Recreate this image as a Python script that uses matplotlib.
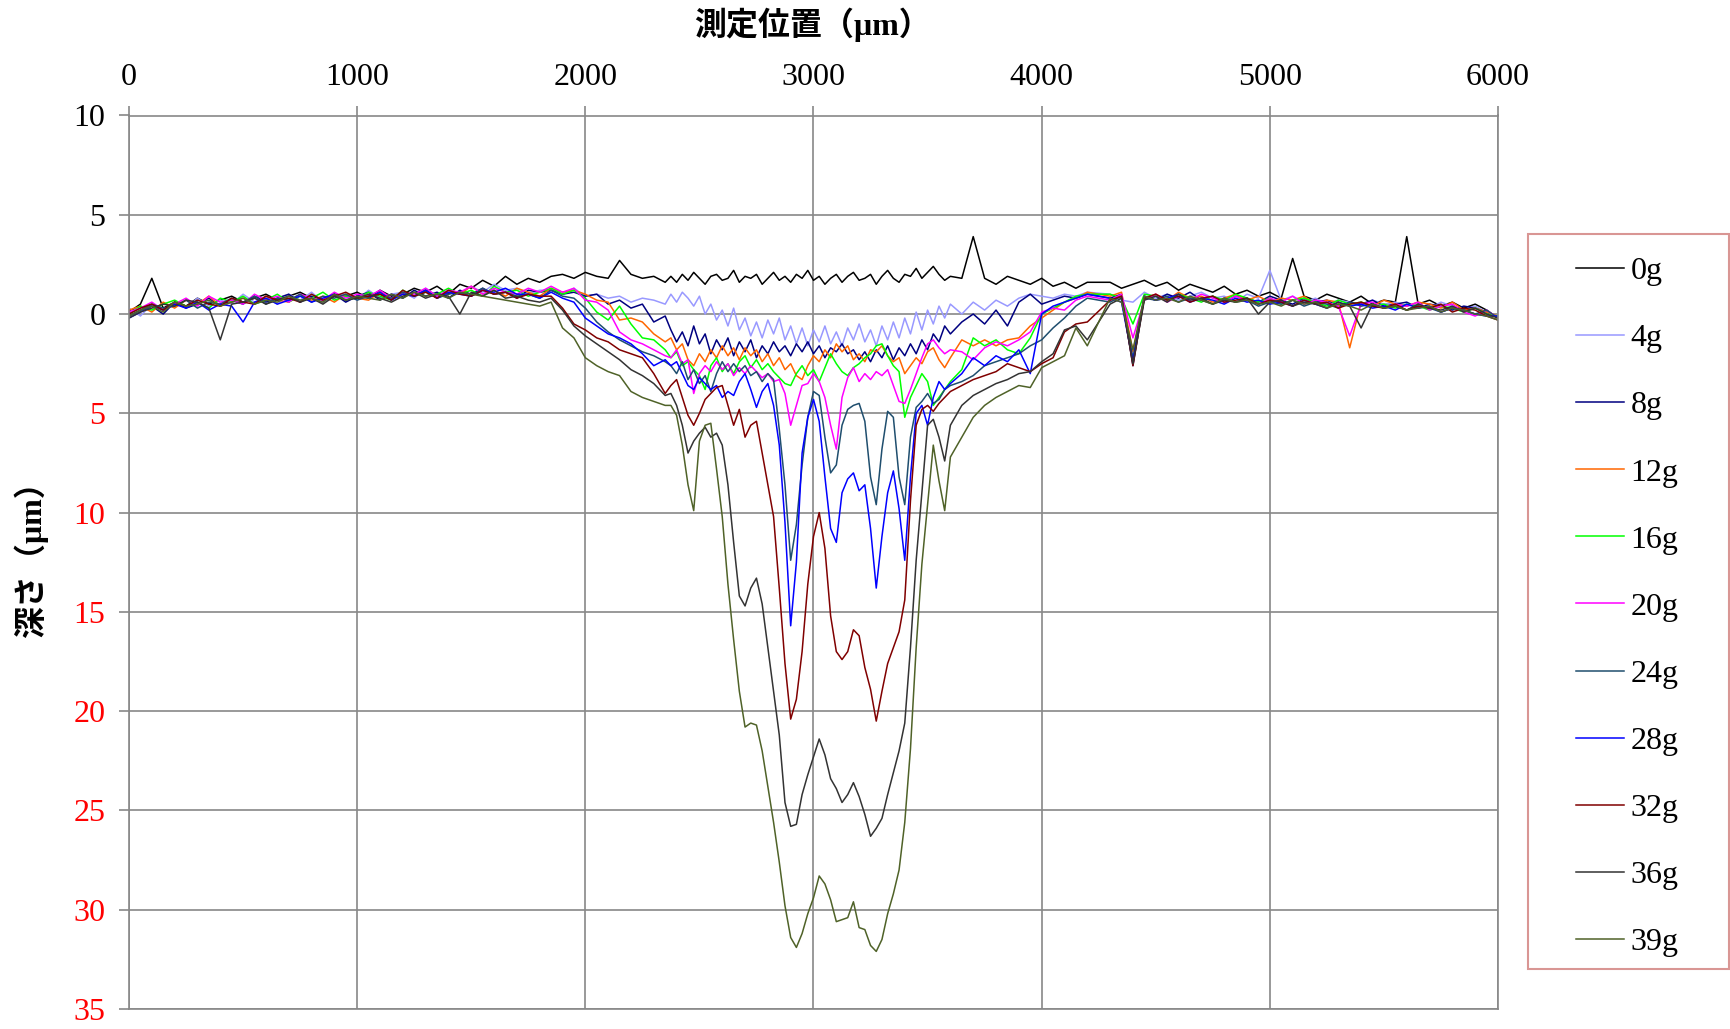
import numpy as np
import matplotlib.pyplot as plt
from matplotlib.patches import Rectangle

# measurement positions (um)
x_um = (list(range(0, 2351, 50)) + list(range(2375, 3601, 25)) +
        list(range(3650, 4201, 50)) + list(range(4300, 6001, 50)))

# depth profiles (um, positive = below surface)
depth_0g = [-0.1, -0.5, -1.8, -0.3, -0.6, -0.4, -0.8, -0.5, -0.7, -0.9, -0.6, -0.8, -1.0, -0.7, -0.9, -1.1, -0.8, -0.6, -1.0,
            -0.9, -1.1, -0.8, -1.2, -0.9, -1.0, -1.3, -1.1, -1.4, -1.0, -1.5, -1.3, -1.7, -1.4, -1.9, -1.5, -1.8, -1.6,
            -1.9, -2.0, -1.8, -2.1, -1.9, -1.8, -2.7, -2.0, -1.8, -1.9, -1.6,
            -1.9, -1.6, -2.0, -1.7, -2.1, -1.8, -1.5, -1.9, -2.0, -1.7, -1.8, -2.2, -1.6, -1.9, -1.8, -2.0, -1.5, -1.8, -2.1, -1.7,
            -1.9, -1.6, -2.0, -1.8, -2.2, -1.7, -1.9, -1.5, -1.8, -2.0, -1.6, -1.9, -2.1, -1.7, -1.8, -2.0, -1.5, -1.9, -2.2, -1.8,
            -1.6, -2.0, -1.9, -2.3, -1.8, -2.1, -2.4, -2.0, -1.7, -1.9,
            -1.8, -3.9, -1.8, -1.5, -1.9, -1.7, -1.5, -1.8, -1.4, -1.6, -1.3, -1.6,
            -1.6, -1.3, -1.5, -1.7, -1.4, -1.6, -1.2, -1.5, -1.3, -1.1, -1.4, -1.0, -1.2, -0.9, -1.1, -0.8, -2.8, -0.9,
            -0.7, -1.0, -0.8, -0.6, -0.9, -0.5, -0.7, -0.6, -3.9, -0.5, -0.7, -0.4, -0.6, -0.3, -0.5, -0.2, 0.2]
depth_4g = [-0.3, 0.1, -0.5, -0.2, -0.6, -0.3, -0.8, -0.4, -0.7, -0.5, -1.0, -0.6, -0.9, -0.5, -1.0, -0.7, -1.1, -0.6, -0.9,
            -1.0, -0.7, -1.2, -0.8, -1.0, -1.1, -0.8, -1.3, -0.9, -1.2, -1.0, -1.4, -1.1, -1.5, -1.2, -1.3, -1.0, -1.2,
            -1.2, -1.0, -1.3, -0.9, -1.0, -0.8, -0.9, -0.6, -0.8, -0.7, -0.5,
            -1.0, -0.6, -1.1, -0.8, -0.4, -0.9, 0.0, -0.5, 0.3, -0.2, 0.6, -0.3, 0.8, 0.2, 1.1, 0.4, 1.2, 0.3, 1.0, 0.2,
            1.3, 0.6, 1.5, 0.7, 1.6, 0.8, 1.4, 0.6, 1.5, 0.9, 1.6, 0.7, 1.3, 0.5, 1.4, 0.8, 1.6, 0.6, 1.3, 0.4,
            1.2, 0.2, 1.0, -0.1, 0.8, -0.2, 0.5, -0.4, 0.2, -0.5,
            0.0, -0.6, -0.2, -0.7, -0.4, -0.8, -1.0, -0.9, -0.8, -1.0, -0.9, -1.1,
            -1.0, -0.7, -0.6, -1.1, -0.8, -1.0, -0.7, -0.9, -1.1, -0.8, -0.9, -0.6, -1.0, -0.8, -2.2, -0.7, -0.9, -0.6,
            -0.8, -0.5, -0.7, -0.6, -0.4, -0.7, -0.5, -0.6, -0.4, -0.5, -0.3, -0.6, -0.4, -0.2, -0.4, -0.1, 0.1]
depth_8g = [0.1, -0.2, -0.4, 0.0, -0.6, -0.3, -0.5, -0.8, -0.4, -0.7, -0.5, -0.9, -0.6, -0.8, -1.0, -0.6, -0.9, -0.7, -1.0,
            -0.6, -0.9, -1.1, -0.7, -1.0, -0.8, -1.2, -0.9, -1.1, -0.8, -1.2, -1.0, -1.3, -1.0, -1.1, -0.8, -1.2, -1.1,
            -1.2, -1.0, -1.1, -0.9, -1.0, -0.5, -0.7, -0.3, -0.5, 0.4, 0.1,
            0.8, 1.4, 0.9, 1.6, 0.6, 1.5, 1.0, 2.0, 1.3, 1.8, 1.2, 2.1, 1.4, 1.9, 1.3, 2.2, 1.6, 2.0, 1.4, 1.9,
            1.6, 2.1, 1.5, 1.9, 1.4, 2.0, 1.6, 2.2, 1.7, 1.9, 1.5, 2.0, 1.8, 2.3, 1.9, 2.4, 1.8, 2.2, 1.6, 2.3,
            1.7, 2.1, 1.5, 2.0, 1.3, 1.8, 1.0, 1.4, 0.6, 1.0,
            0.4, 0.0, 0.5, -0.2, 0.6, -0.6, -1.0, -0.5, -0.7, -0.9, -0.8, -1.0,
            -0.8, -1.0, 2.6, -0.9, -0.7, -1.0, -0.8, -1.1, -0.7, -0.9, -0.6, -0.9, -0.8, -0.6, -0.9, -0.7, -0.5, -0.8,
            -0.6, -0.7, -0.4, -0.6, -0.5, -0.7, -0.4, -0.5, -0.6, -0.3, -0.5, -0.4, -0.2, -0.4, -0.3, -0.1, 0.2]
depth_12g = [-0.2, -0.4, -0.1, -0.6, -0.3, -0.7, -0.5, -0.9, -0.4, -0.6, -0.8, -0.5, -0.9, -0.7, -0.6, -1.0, -0.7, -0.9, -0.6,
             -1.0, -0.8, -0.7, -1.1, -0.8, -1.0, -0.9, -1.2, -0.8, -1.1, -1.0, -1.4, -1.0, -1.2, -0.9, -1.3, -1.1, -0.9,
             -1.3, -1.1, -1.2, -1.0, -0.7, -0.6, 0.3, 0.2, 0.4, 1.0, 1.4,
             1.2, 1.8, 1.5, 2.3, 2.6, 2.0, 2.4, 1.8, 2.2, 1.6, 2.1, 1.7, 2.3, 1.7, 2.1, 1.8, 2.4, 2.0, 2.6, 2.2,
             2.8, 2.5, 3.1, 3.3, 2.6, 2.1, 2.4, 1.8, 2.2, 1.5, 1.9, 1.6, 2.3, 2.0, 2.4, 1.8, 1.9, 1.6, 2.1, 2.4,
             2.2, 3.0, 2.6, 2.2, 2.5, 1.9, 1.7, 2.3, 2.7, 2.2,
             1.3, 1.6, 1.3, 1.6, 1.3, 1.2, 0.6, 0.2, -0.2, -0.6, -0.8, -1.1,
             -0.9, -1.1, 1.9, -0.8, -1.0, -0.7, -1.1, -0.8, -0.9, -0.6, -0.8, -1.0, -0.7, -0.9, -0.6, -0.8, -0.7, -0.9,
             -0.5, -0.7, -0.6, 1.7, -0.6, -0.4, -0.7, -0.5, -0.4, -0.6, -0.5, -0.3, -0.6, -0.2, -0.3, -0.1, 0.1]
depth_16g = [0.0, -0.4, -0.2, -0.5, -0.7, -0.4, -0.6, -0.3, -0.8, -0.6, -0.9, -0.5, -0.7, -1.0, -0.6, -0.9, -0.8, -1.1, -0.7,
             -0.9, -0.8, -1.1, -0.9, -0.7, -1.2, -0.9, -1.1, -1.0, -1.3, -1.0, -1.2, -0.9, -1.4, -1.1, -1.2, -0.9, -1.1,
             -1.3, -1.0, -1.2, -0.8, -0.1, 0.3, -0.4, 0.5, 1.2, 1.3, 1.8,
             2.2, 1.9, 2.6, 2.4, 2.8, 3.1, 3.8, 2.6, 2.2, 2.9, 2.5, 3.0, 2.4, 2.1, 2.7, 2.3, 2.8, 2.5, 2.9, 3.2,
             3.5, 3.6, 3.0, 2.6, 3.1, 2.8, 3.4, 2.7, 2.0, 2.5, 2.9, 3.1, 2.7, 2.5, 2.2, 2.0, 1.6, 1.5, 2.1, 2.6,
             2.9, 5.2, 4.2, 3.6, 3.0, 3.4, 4.6, 4.2, 3.8, 3.4,
             2.8, 1.2, 1.6, 1.3, 1.8, 2.0, 1.2, 0.0, -0.3, -0.6, -0.9, -1.0,
             -1.0, -0.8, 0.5, -1.0, -0.9, -0.7, -1.0, -0.8, -0.6, -0.9, -0.7, -1.0, -0.8, -0.6, -0.8, -0.5, -0.7, -0.8,
             -0.6, -0.4, -0.7, -0.5, -0.6, -0.4, -0.5, -0.3, -0.5, -0.4, -0.2, -0.4, -0.3, -0.1, -0.3, 0.0, 0.1]
depth_20g = [-0.1, -0.3, -0.6, -0.2, -0.5, -0.8, -0.4, -0.9, -0.6, -0.7, -0.5, -1.0, -0.7, -0.9, -0.6, -1.0, -0.8, -0.7, -1.1,
             -0.8, -1.0, -0.9, -1.2, -0.8, -1.1, -1.0, -1.3, -0.9, -1.2, -1.1, -1.4, -1.0, -1.3, -1.1, -1.0, -1.3, -1.1,
             -1.4, -1.1, -1.3, -0.7, -0.6, -0.2, 0.9, 1.3, 1.5, 1.8, 2.1,
             2.2, 1.8, 2.5, 2.3, 4.0, 3.0, 2.6, 2.9, 2.4, 2.8, 2.5, 3.1, 2.7, 3.0, 2.6, 2.9, 3.2, 3.0, 3.4, 3.3,
             4.0, 5.6, 4.6, 3.6, 3.5, 3.0, 3.4, 4.2, 5.6, 6.8, 4.2, 3.2, 2.7, 3.4, 3.0, 3.3, 2.9, 3.1, 2.8, 3.6,
             4.4, 4.5, 3.8, 3.0, 2.2, 1.5, 1.3, 1.7, 2.0, 1.8,
             1.9, 2.3, 1.7, 1.4, 1.6, 1.3, 0.9, -0.1, -0.3, -0.2, -0.7, -0.9,
             -0.7, -1.0, 1.2, -0.7, -1.0, -0.6, -0.9, -0.7, -1.0, -0.8, -0.6, -0.9, -0.7, -0.5, -0.8, -0.6, -0.9, -0.5,
             -0.7, -0.6, -0.4, 1.1, -0.5, -0.6, -0.3, -0.5, -0.4, -0.6, -0.2, -0.4, -0.5, -0.1, 0.1, -0.2, 0.2]
depth_24g = [0.1, -0.2, -0.5, -0.3, -0.4, -0.7, -0.3, -0.6, -0.5, -0.8, -0.6, -0.9, -0.5, -0.8, -0.7, -1.0, -0.6, -0.9, -0.8,
             -1.0, -0.7, -0.9, -1.0, -0.8, -1.1, -0.9, -1.2, -0.8, -1.0, -1.1, -0.9, -1.3, -1.0, -1.1, -0.9, -1.0, -0.8,
             -1.2, -0.9, -0.8, -0.3, 0.4, 0.9, 1.3, 1.6, 1.9, 2.1, 2.4,
             2.6, 3.0, 2.4, 3.3, 2.8, 3.5, 3.1, 3.9, 3.0, 2.4, 2.9, 2.5, 2.9, 2.6, 3.1, 2.9, 3.4, 3.0, 3.3, 5.8,
             8.6, 12.4, 10.6, 7.6, 5.2, 3.9, 4.1, 6.2, 8.0, 7.6, 5.6, 4.8, 4.6, 4.5, 5.4, 8.2, 9.6, 6.8, 4.9, 5.2,
             8.2, 9.6, 6.2, 4.7, 4.4, 4.0, 4.5, 4.3, 3.8, 3.6,
             3.4, 3.1, 2.6, 2.4, 2.2, 2.0, 1.6, 1.3, 0.7, 0.2, -0.4, -0.8,
             -0.6, -0.9, 2.2, -0.8, -0.7, -0.9, -0.6, -0.8, -0.7, -0.5, -0.8, -0.6, -0.7, -0.4, -0.6, -0.5, -0.7, -0.4,
             -0.6, -0.5, -0.3, -0.6, -0.4, -0.5, -0.3, -0.4, -0.2, -0.4, -0.3, -0.1, -0.3, -0.2, 0.0, -0.2, 0.2]
depth_28g = [0.2, -0.1, -0.4, -0.2, -0.5, -0.3, -0.6, -0.2, -0.5, -0.4, 0.4, -0.6, -0.8, -0.5, -0.7, -0.9, -0.6, -0.8, -1.0,
             -0.7, -0.9, -0.8, -1.1, -0.7, -1.0, -0.9, -1.2, -0.8, -1.1, -1.0, -0.9, -1.2, -1.1, -1.3, -1.0, -1.0, -0.8,
             -1.1, -0.8, -0.6, 0.2, 0.6, 1.0, 1.2, 1.5, 2.0, 2.6, 2.3,
             2.6, 2.4, 3.0, 3.6, 3.8, 3.2, 3.5, 3.8, 3.6, 4.2, 3.9, 4.1, 3.4, 3.0, 3.8, 4.7, 3.9, 3.5, 4.6, 6.6,
             10.5, 15.7, 12.5, 7.0, 5.2, 4.3, 5.4, 8.2, 10.8, 11.5, 9.0, 8.3, 8.0, 8.9, 8.6, 10.8, 13.8, 11.2, 9.0, 7.9,
             9.8, 12.4, 8.2, 5.0, 4.6, 5.6, 4.2, 3.4, 3.8, 3.5,
             3.0, 2.2, 2.6, 2.1, 2.4, 1.8, 3.0, 0.0, -0.4, -0.6, -0.8, -1.0,
             -0.8, -0.6, 2.4, -0.9, -0.7, -0.8, -1.0, -0.6, -0.8, -0.7, -0.5, -0.8, -0.6, -0.7, -0.5, -0.6, -0.4, -0.7,
             -0.5, -0.3, -0.6, -0.4, -0.5, -0.3, -0.4, -0.2, -0.5, -0.3, -0.4, -0.1, -0.3, -0.2, 0.0, 0.1, 0.1]
depth_32g = [0.0, -0.3, -0.5, -0.2, -0.6, -0.4, -0.7, -0.5, -0.4, -0.8, -0.6, -0.5, -0.9, -0.7, -0.8, -0.6, -1.0, -0.7, -0.9,
             -1.1, -0.8, -0.9, -1.0, -0.7, -1.2, -0.9, -1.1, -0.8, -1.2, -1.0, -0.9, -1.2, -1.0, -1.1, -0.8, -1.0, -0.9,
             -0.9, -0.3, 0.5, 0.8, 1.2, 1.4, 1.8, 2.0, 2.2, 3.0, 4.0,
             3.6, 3.3, 4.2, 5.1, 5.6, 5.0, 4.3, 4.0, 3.7, 3.6, 4.6, 5.6, 4.8, 6.2, 5.6, 5.4, 7.0, 8.6, 10.2, 13.8,
             17.6, 20.4, 19.4, 17.0, 13.6, 11.2, 10.0, 11.8, 15.2, 17.0, 17.4, 17.0, 15.9, 16.2, 17.8, 18.9, 20.5, 19.0, 17.6, 16.8,
             16.0, 14.4, 9.4, 5.6, 4.8, 4.6, 4.9, 4.5, 4.2, 3.9,
             3.6, 3.3, 3.1, 2.9, 2.5, 2.7, 2.9, 2.5, 2.2, 0.9, 0.5, 0.4,
             -0.7, -0.9, 2.6, -0.8, -1.0, -0.7, -0.9, -0.6, -0.8, -0.9, -0.6, -0.7, -0.8, -0.5, -0.7, -0.6, -0.4, -0.7,
             -0.5, -0.6, -0.3, -0.5, -0.6, -0.4, -0.3, -0.5, -0.2, -0.4, -0.3, -0.5, -0.1, -0.3, -0.2, 0.1, 0.3]
depth_36g = [0.2, -0.1, -0.3, -0.5, -0.4, -0.7, -0.6, -0.3, 1.3, -0.5, -0.6, -0.8, -0.5, -0.7, -0.9, -0.6, -0.8, -0.5, -0.9,
             -0.7, -0.8, -1.0, -0.8, -0.6, -0.9, -1.1, -0.8, -1.0, -0.9, 0.0, -1.1, -0.9, -1.2, -0.8, -0.9, -0.7, -0.6,
             -0.8, -0.2, 0.6, 1.1, 1.5, 1.9, 2.3, 2.8, 3.1, 3.5, 4.1,
             4.0, 4.6, 5.6, 7.0, 6.4, 6.0, 5.7, 6.2, 6.0, 6.6, 8.6, 11.5, 14.2, 14.7, 13.8, 13.3, 14.6, 16.8, 19.0, 21.2,
             24.6, 25.8, 25.7, 24.2, 23.2, 22.3, 21.4, 22.2, 23.4, 23.9, 24.6, 24.2, 23.6, 24.3, 25.2, 26.3, 25.9, 25.4, 24.2, 23.1,
             22.0, 20.6, 16.8, 12.4, 9.0, 5.6, 5.3, 6.2, 7.4, 5.6,
             4.6, 4.1, 3.8, 3.5, 3.3, 3.0, 2.9, 2.4, 2.0, 0.8, 0.6, 1.3,
             -0.5, -0.8, 2.5, -0.7, -0.9, -0.6, -1.0, -0.7, -0.8, -0.5, -0.7, -0.6, -0.8, 0.0, -0.6, -0.7, -0.4, -0.6,
             -0.5, -0.3, -0.6, -0.4, 0.7, -0.5, -0.3, -0.4, -0.2, -0.5, -0.3, -0.2, -0.4, -0.1, -0.3, 0.0, 0.2]
depth_39g = [0.1, -0.2, -0.4, -0.1, -0.6, -0.4, -0.5, -0.7, -0.4, -0.6, -0.8, -0.5, -0.7, -0.6, -0.9, -0.7, -0.8, -0.6, -1.0,
             -0.7, -0.9, -0.8, -0.7, -1.0, -0.8, -1.1, -0.9, -1.0, -0.8, -1.1, -1.0, -0.9, -0.8, -0.7, -0.6, -0.5, -0.4,
             -0.6, 0.7, 1.2, 2.2, 2.6, 2.9, 3.1, 3.9, 4.2, 4.4, 4.6,
             4.6, 5.1, 6.6, 8.6, 9.9, 6.4, 5.6, 5.5, 7.8, 10.2, 13.6, 16.4, 19.0, 20.8, 20.6, 20.7, 22.0, 23.8, 25.6, 27.6,
             29.8, 31.4, 31.9, 31.2, 30.2, 29.4, 28.3, 28.7, 29.5, 30.6, 30.5, 30.4, 29.6, 30.9, 31.0, 31.8, 32.1, 31.5, 30.2, 29.2,
             28.0, 25.6, 21.9, 16.8, 12.6, 9.6, 6.6, 8.4, 9.9, 7.2,
             6.2, 5.2, 4.6, 4.2, 3.9, 3.6, 3.7, 2.7, 2.4, 2.1, 0.7, 1.6,
             -0.8, -0.6, 1.8, -0.9, -0.7, -0.8, -0.6, -0.9, -0.7, -0.5, -0.8, -0.6, -0.7, -0.5, -0.6, -0.4, -0.7, -0.5,
             -0.6, -0.3, -0.5, -0.4, -0.2, -0.5, -0.3, -0.4, -0.2, -0.3, -0.4, -0.1, -0.3, -0.2, 0.0, 0.1, 0.3]

labels = ['0g', '4g', '8g', '12g', '16g', '20g', '24g', '28g', '32g', '36g', '39g']
colors = ['#000000', '#9999FF', '#000080', '#FF6600', '#00FF00', '#FF00FF',
          '#1F4E6E', '#0000FF', '#800000', '#333333', '#4F6228']
series = [depth_0g, depth_4g, depth_8g, depth_12g, depth_16g, depth_20g,
          depth_24g, depth_28g, depth_32g, depth_36g, depth_39g]
for lab, s in zip(labels, series):
    assert len(s) == len(x_um), (lab, len(s), len(x_um))

yticks = list(range(-10, 36, 5))
xticks = list(range(0, 6001, 1000))

plt.rcParams['font.family'] = ['Liberation Serif', 'Noto Sans CJK JP']
W, H = 1731, 1029
fig = plt.figure(figsize=(W / 100, H / 100), dpi=100)
ax = fig.add_axes([129 / W, 1 - 1009 / H, (1498 - 129) / W, (1009 - 115.5) / H])

grid_c = '#888888'
for lab, c, d in zip(labels, colors, series):
    ax.plot(x_um, d, color=c, lw=1.1, label=lab)

ax.set_xlim(0, 6000)
ax.set_ylim(35, -10)
ax.xaxis.tick_top()
ax.set_xticks(xticks)
ax.set_yticks(yticks)
ax.set_yticklabels([str(abs(v)) for v in yticks])
ax.tick_params(length=7, width=1.2, color=grid_c, labelsize=23, pad=10)
for t, v in zip(ax.get_yticklabels(), yticks):
    t.set_color('red' if v > 0 else 'black')
ax.grid(True, color=grid_c, lw=1.2)
ax.set_axisbelow(True)
for sp in ax.spines.values():
    sp.set_color(grid_c)
    sp.set_linewidth(1.2)

fig.text(813 / W, 1 - 25 / H, '測定位置（μm）', ha='center', va='center',
         fontsize=23, fontweight='bold')
fig.text(31 / W, 1 - 552 / H, '深さ（μm）', rotation=90, ha='center', va='center',
         fontsize=23, fontweight='bold')

h, l = ax.get_legend_handles_labels()
fig.legend(h, l, loc='upper left', bbox_to_anchor=(1576 / W, 1 - 257 / H),
           frameon=False, fontsize=23, handlelength=1.5, handletextpad=0.2,
           labelspacing=1.18, borderpad=0, borderaxespad=0)
fig.add_artist(Rectangle((1528 / W, 1 - 969 / H), (1729 - 1528) / W, (969 - 234) / H,
                         transform=fig.transFigure, fill=False,
                         edgecolor='#D99694', lw=1.5))

fig.savefig('out.png', dpi=100)
